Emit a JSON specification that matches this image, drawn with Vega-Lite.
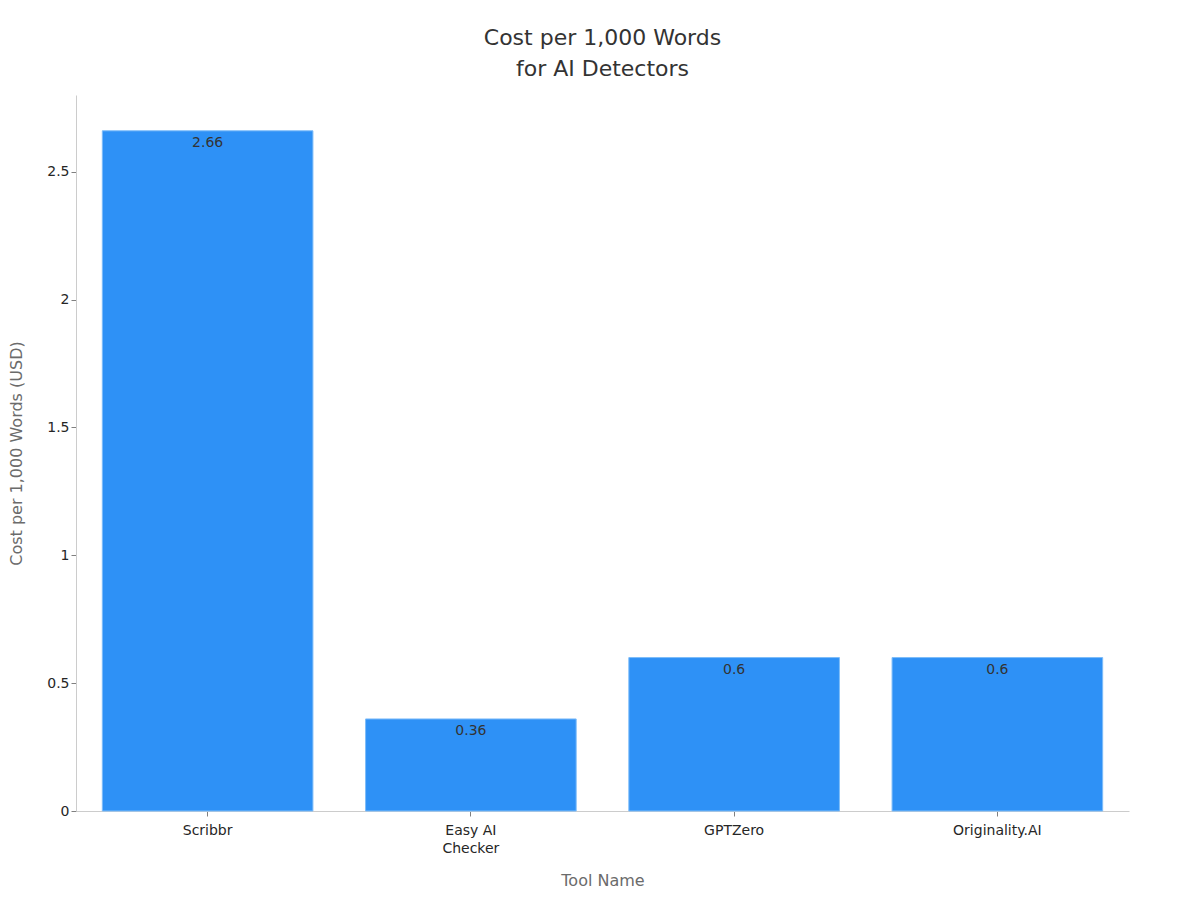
{
  "$schema": "https://vega.github.io/schema/vega-lite/v6.json",
  "background": "#ffffff",
  "autosize": "none",
  "padding": {"left": 76, "top": 95, "right": 71, "bottom": 89},
  "width": 1053,
  "height": 716,
  "title": {
    "text": ["Cost per 1,000 Words", "for AI Detectors"],
    "anchor": "middle",
    "font": "DejaVu Sans",
    "fontSize": 22,
    "fontWeight": "normal",
    "color": "#333333",
    "lineHeight": 31,
    "offset": 14
  },
  "data": {
    "values": [
      {"tool": "Scribbr", "cost": 2.66},
      {"tool": "Easy AI Checker", "cost": 0.36},
      {"tool": "GPTZero", "cost": 0.6},
      {"tool": "Originality.AI", "cost": 0.6}
    ]
  },
  "encoding": {
    "x": {
      "field": "tool",
      "type": "nominal",
      "sort": null,
      "title": "Tool Name",
      "scale": {"paddingInner": 0.2, "paddingOuter": 0.1},
      "axis": {
        "labelAngle": 0,
        "labelExpr": "datum.label == 'Easy AI Checker' ? ['Easy AI', 'Checker'] : datum.label",
        "labelLineHeight": 18,
        "labelPadding": 7,
        "titlePadding": 17
      }
    },
    "y": {
      "field": "cost",
      "type": "quantitative",
      "title": "Cost per 1,000 Words (USD)",
      "scale": {"domain": [0, 2.8], "nice": false},
      "axis": {"values": [0, 0.5, 1, 1.5, 2, 2.5], "format": "~g", "grid": false, "titlePadding": 22}
    }
  },
  "layer": [
    {
      "mark": {"type": "bar", "color": "#2e91f6", "stroke": "#7dbcf9", "strokeWidth": 1}
    },
    {
      "mark": {"type": "text", "baseline": "top", "dy": 5, "font": "DejaVu Sans", "fontSize": 14, "color": "#333333"},
      "encoding": {"text": {"field": "cost", "type": "quantitative"}}
    }
  ],
  "config": {
    "view": {"stroke": null},
    "font": "DejaVu Sans",
    "axis": {
      "labelFont": "DejaVu Sans",
      "titleFont": "DejaVu Sans",
      "labelFontSize": 14,
      "titleFontSize": 16,
      "titleFontWeight": "normal",
      "labelColor": "#262626",
      "titleColor": "#6b6b6b",
      "domainColor": "#cccccc",
      "tickColor": "#808080",
      "tickSize": 5
    }
  }
}
